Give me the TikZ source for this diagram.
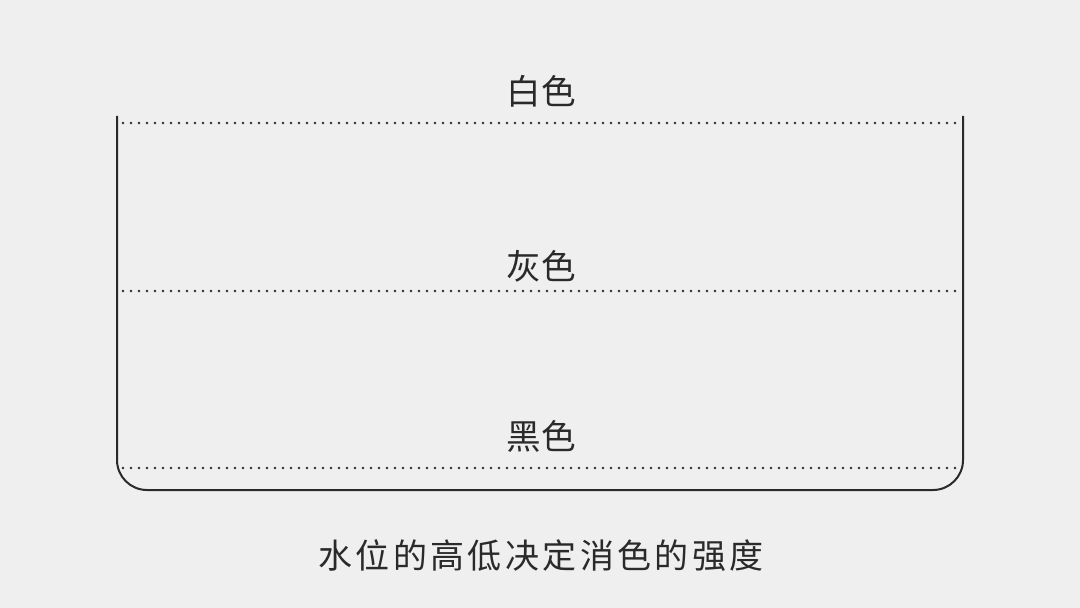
\documentclass[tikz,border=0pt]{standalone}
\usepackage{fontspec}
\setmainfont{Noto Sans CJK SC}
\newfontfamily\cjkwide[LetterSpace=10]{Noto Sans CJK SC}
\usepackage{xcolor}
\definecolor{bgcol}{HTML}{EFEFEF}
\definecolor{inkcol}{HTML}{2A2A2A}

\begin{document}
\begin{tikzpicture}[x=0.5pt, y=-0.5pt,
    level/.style={draw=inkcol, line width=1.3pt, line cap=round, dash pattern=on 0pt off 4pt},
    levellabel/.style={text=inkcol, font=\fontsize{17.3}{20}\selectfont, inner sep=0pt}]
            % Hintergrund
            \fill[bgcol] (0,0) rectangle (1080,608);
            \useasboundingbox (0,0) rectangle (1080,608);

            % Behaelter
            \draw[inkcol, line width=1pt, rounded corners=15pt]
                (117,116) -- (117,490) -- (963,490) -- (963,116);

            % Wasserstaende
            \foreach \y/\label/\name/\dy in {
                123/白色/white/32,
                291/灰色/grey/25,
                468/黑色/black/32
            } {
                \coordinate (\name-l) at (123,\y);
                \coordinate (\name-r) at (957,\y);
                \draw[level] (\name-l) -- (\name-r);
                \node[levellabel] (\name) at (541,\y-\dy) {\label};
            }

            % Unterschrift
            \node[text=inkcol, inner sep=0pt] (caption) at (541,556)
                {\cjkwide\fontsize{17}{20}\selectfont 水位的高低决定消色的强度};
        \end{tikzpicture}
\end{document}
